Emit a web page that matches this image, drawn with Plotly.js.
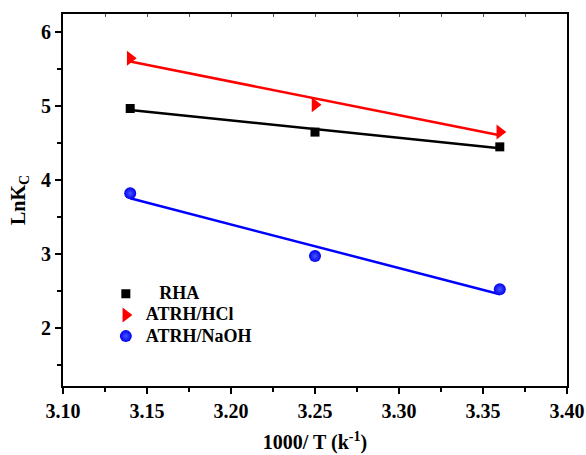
<!DOCTYPE html>
<html>
<head>
<meta charset="utf-8">
<script src="https://cdn.plot.ly/plotly-3.0.1.min.js"></script>
<style>html,body{margin:0;padding:0;background:#fff;}#chart{width:586px;height:455px;}</style>
</head>
<body>
<div id="chart"></div>
<script>
// Inverse temperature (1000/T) and ln Kc for each adsorbent
const invT = [3.14, 3.25, 3.36];
const lnKcRHA = [4.97, 4.65, 4.45];
const lnKcHCl = [5.65, 5.02, 4.65];
const lnKcNaOH = [3.82, 2.97, 2.52];
const seriesNames = ["\u00a0\u00a0\u00a0RHA", "ATRH/HCl", "ATRH/NaOH"];
const xTicks = [3.10, 3.15, 3.20, 3.25, 3.30, 3.35, 3.40];
const yTicks = [2, 3, 4, 5, 6];

// Least-squares straight line through the points, evaluated at the end points
function fitLine(xs, ys) {
  const n = xs.length;
  const mx = xs.reduce((a, b) => a + b, 0) / n;
  const my = ys.reduce((a, b) => a + b, 0) / n;
  let sxy = 0, sxx = 0;
  for (let i = 0; i < n; i++) { sxy += (xs[i] - mx) * (ys[i] - my); sxx += (xs[i] - mx) ** 2; }
  const k = sxy / sxx;
  const xe = [Math.min(...xs), Math.max(...xs)];
  return { x: xe, y: xe.map(v => my + k * (v - mx)) };
}

const fam = "Liberation Serif";
const bold = t => "<b>" + t + "</b>";
// legend labels are set larger than the legend font so the rows stay tight
const legendLabel = t => '<span style="font-size:18px"><b>' + t + "</b></span>";
const series = [
  { y: lnKcRHA, color: "#000000", marker: { symbol: "square", size: 9, color: "#000" } },
  { y: lnKcHCl, color: "#ff0000", marker: { symbol: "triangle-right", size: 13, color: "#ff0000" } },
  { y: lnKcNaOH, color: "#0000ff", marker: { symbol: "circle", size: 12, color: "#0000ee", gradient: { type: "radial", color: "#4656ff" } } }
];

const traces = [];
series.forEach((s, i) => {
  const f = fitLine(invT, s.y);
  traces.push({ x: f.x, y: f.y, mode: "lines", line: { color: s.color, width: 2.5 }, showlegend: false, hoverinfo: "skip" });
  traces.push({ x: invT, y: s.y, mode: "markers", name: legendLabel(seriesNames[i]), marker: s.marker });
});
// top axis carrying the small inward ticks
traces.push({ x: [3.1], y: [null], xaxis: "x2", yaxis: "y", showlegend: false, hoverinfo: "skip", mode: "markers" });

const layout = {
  width: 586, height: 455,
  margin: { l: 63, r: 19, t: 14, b: 69 },
  paper_bgcolor: "#fff", plot_bgcolor: "#fff",
  font: { family: fam, color: "#000" },
  showlegend: true,
  legend: {
    x: 0.085, y: 0.29, xanchor: "left", yanchor: "top",
    bgcolor: "rgba(0,0,0,0)", tracegroupgap: 0, itemwidth: 30,
    font: { family: fam, size: 14, color: "#000" }
  },
  xaxis: {
    range: [3.10, 3.40], tickvals: xTicks, ticktext: xTicks.map(v => bold(v.toFixed(2))),
    ticks: "outside", ticklen: 6, tickwidth: 2, tickcolor: "#000",
    minor: { dtick: 0.025, ticks: "outside", ticklen: 4, tickwidth: 2, tickcolor: "#000" },
    showline: true, linewidth: 2, linecolor: "#000", mirror: true,
    showgrid: false, zeroline: false,
    tickfont: { family: fam, size: 20, color: "#000" },
    title: { text: bold("1000/ T (k<sup>-1</sup>)"), standoff: 14, font: { family: fam, size: 20, color: "#000" } }
  },
  xaxis2: {
    overlaying: "x", side: "top", matches: "x", range: [3.10, 3.40],
    dtick: 0.025, tick0: 3.1, ticks: "inside", ticklen: 3, tickwidth: 1, tickcolor: "#555",
    showticklabels: false, showgrid: false, zeroline: false, showline: false
  },
  yaxis: {
    range: [1.21, 6.25], tickvals: yTicks, ticktext: yTicks.map(v => bold(String(v))),
    ticks: "outside", ticklen: 6, tickwidth: 2, tickcolor: "#000",
    minor: { dtick: 0.5, ticks: "outside", ticklen: 4, tickwidth: 2, tickcolor: "#000" },
    showline: true, linewidth: 2, linecolor: "#000", mirror: true,
    showgrid: false, zeroline: false,
    tickfont: { family: fam, size: 20, color: "#000" },
    title: { text: bold("LnK<sub>C</sub>"), standoff: 10, font: { family: fam, size: 20, color: "#000" } }
  }
};

Plotly.newPlot("chart", traces, layout, { displayModeBar: false, staticPlot: true });
</script>
</body>
</html>
